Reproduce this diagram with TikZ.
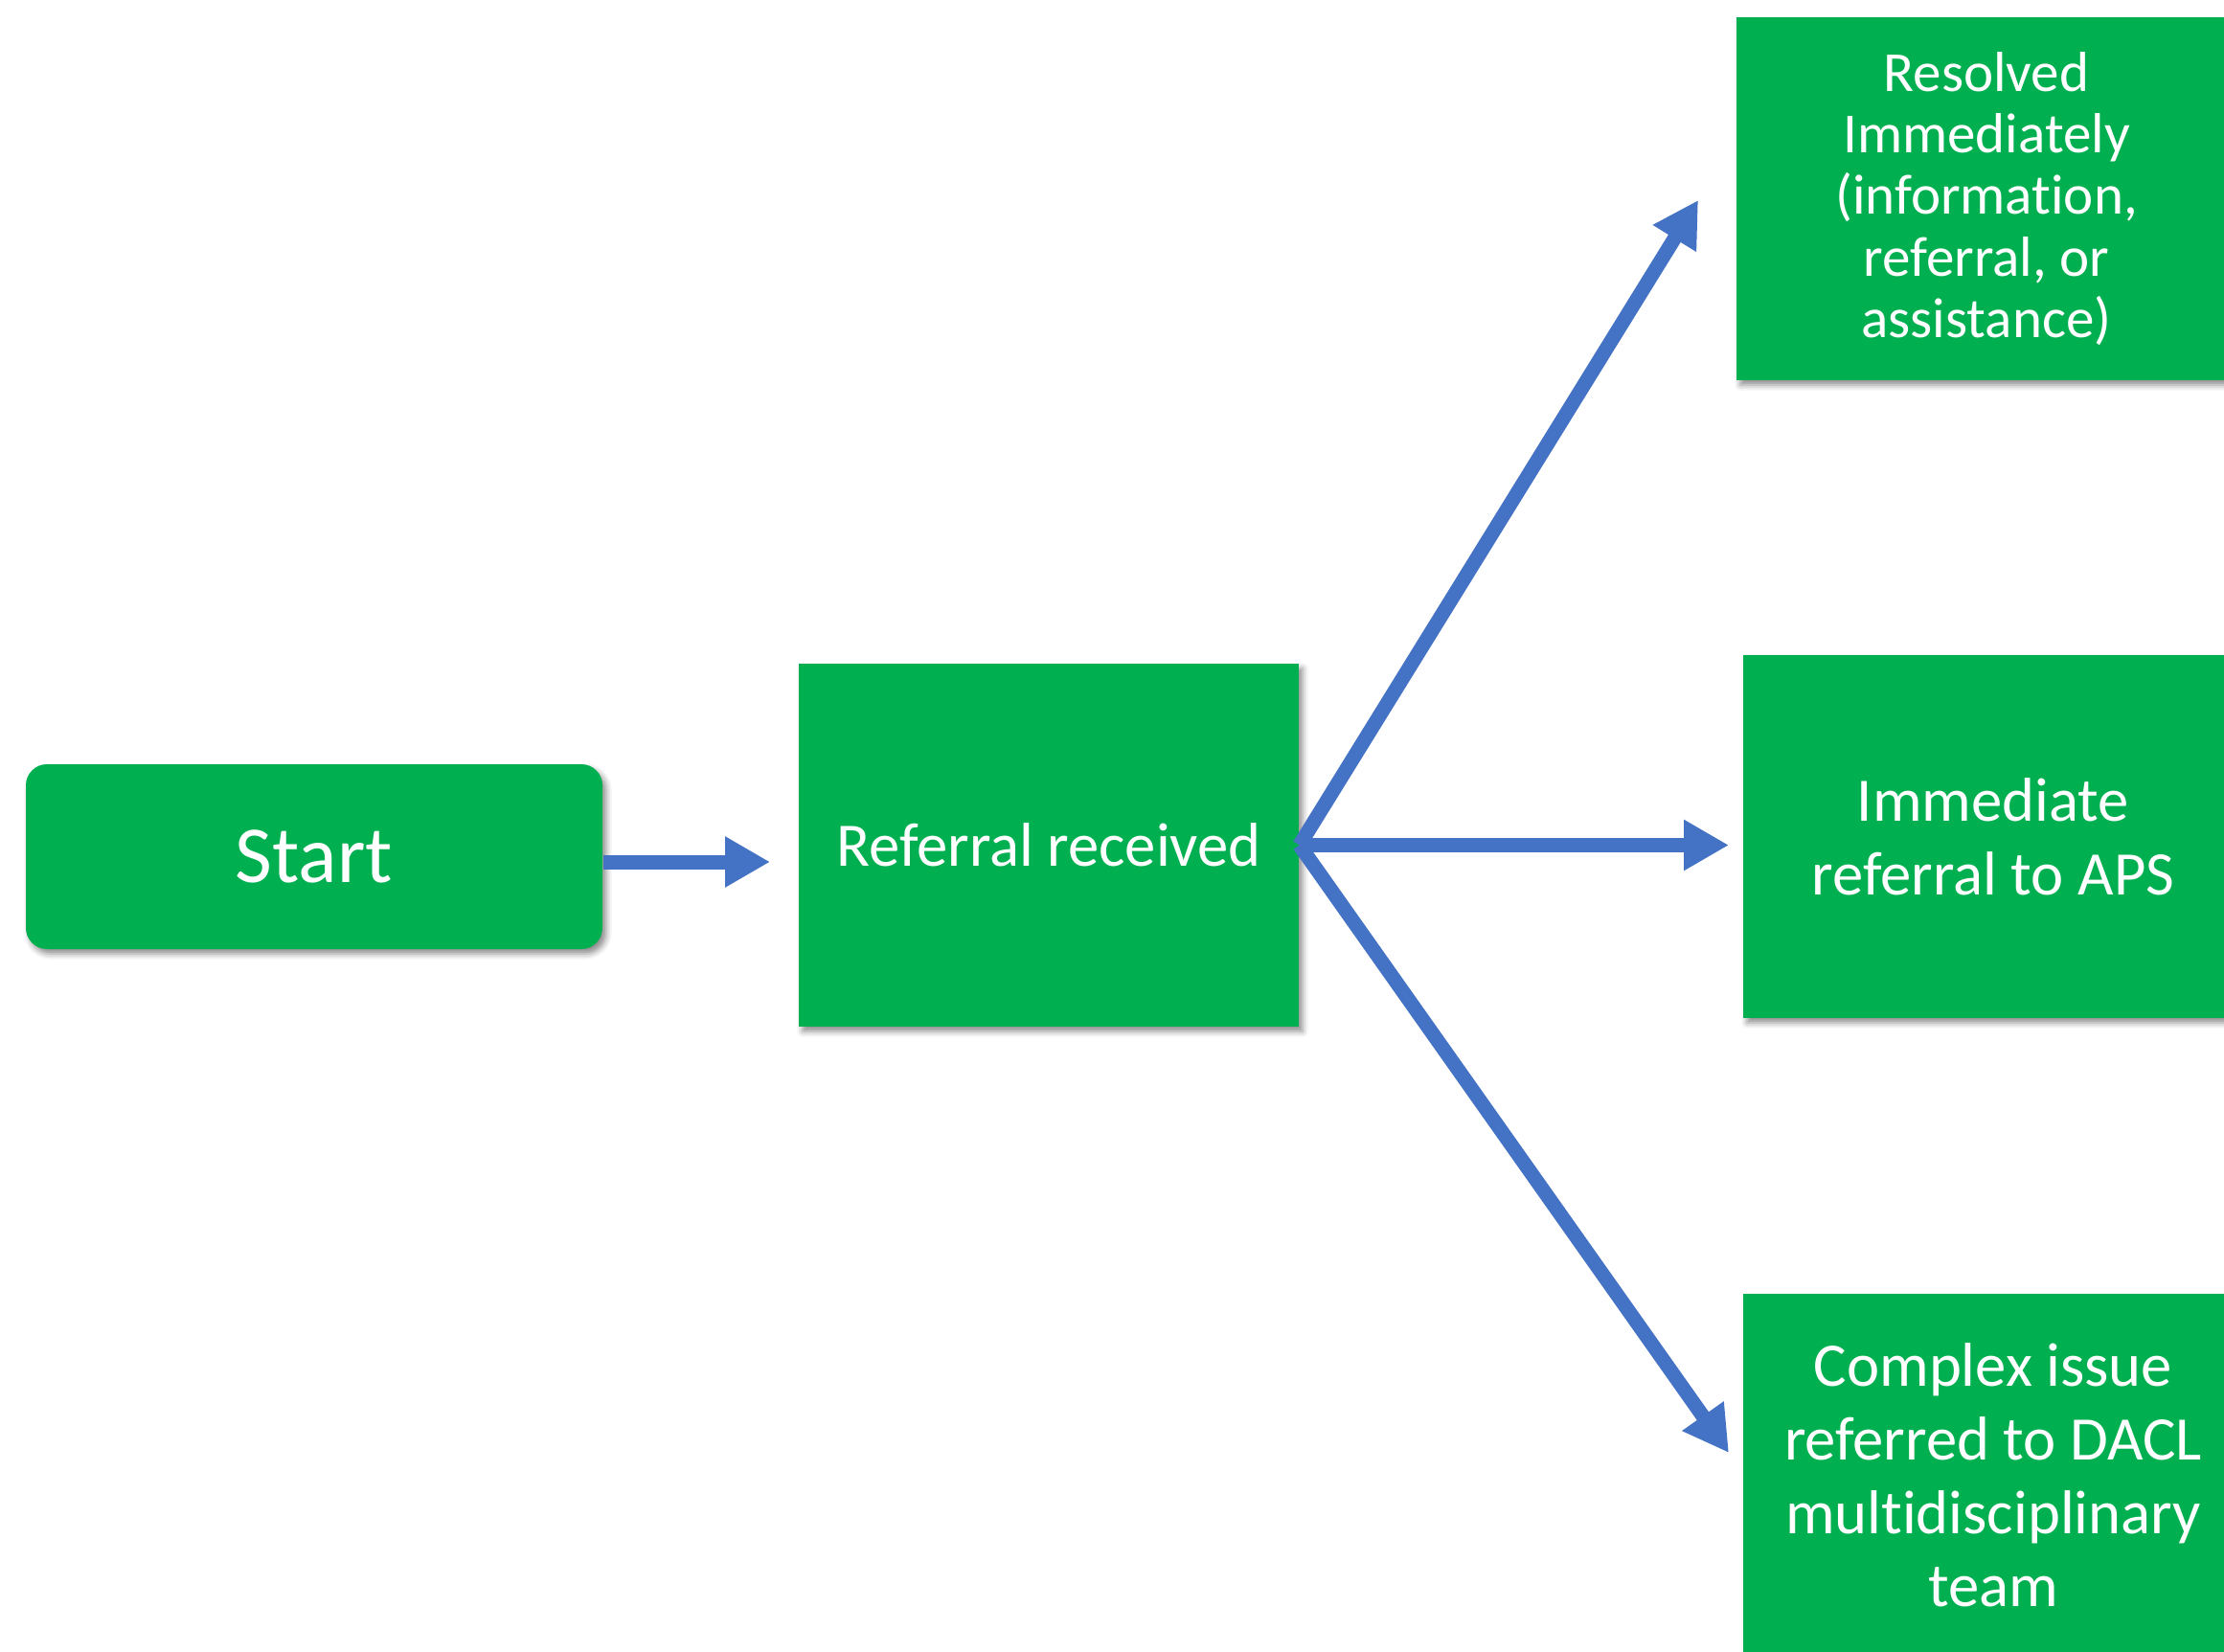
\documentclass[tikz,border=0pt]{standalone}
\usepackage{fontspec}
\setmainfont{Carlito}[Ligatures={NoCommon}]
\usepackage{tikz}
\usetikzlibrary{arrows.meta, shadows.blur, positioning}

\definecolor{boxgreen}{HTML}{00B050}
\definecolor{flowblue}{HTML}{4472C4}

\begin{document}
\begin{tikzpicture}[
		box/.style={rectangle, fill=boxgreen, text=white, align=center, inner sep=0pt,
			minimum width=5.22cm, minimum height=3.79cm,
			blur shadow={shadow xshift=0.04cm, shadow yshift=-0.05cm, shadow blur radius=0.06cm, shadow opacity=45}},
		bigtext/.style={font=\fontsize{18.4}{21.8}\selectfont},
		flow/.style={draw=flowblue, line width=0.15cm, -{Triangle[length=0.47cm, width=0.5cm]}}
	]
	
	\useasboundingbox (0,0) rectangle (23.22,-17.24);
	
	% --- 起点与接收 ---
	\node[box, rounded corners=0.22cm, minimum width=6.02cm, minimum height=1.93cm,
		font=\fontsize{24}{29}\selectfont] (start) at (3.28,-8.945) {Start};
	\node[box, bigtext] (ref) at (10.95,-8.825) {Referral received};
	
	% --- 三种结果 ---
	\node[box, font=\fontsize{16.8}{18.3}\selectfont] (res) at (20.74,-2.075)
		{Resolved\\Immediately\\(information,\\referral, or\\assistance)};
	\node[box, bigtext] (imm) at (20.81,-8.735) {Immediate\\referral to APS};
	\node[box, bigtext] (cpx) at (20.81,-15.405)
		{Complex issue\\referred to DACL\\multidisciplinary\\team};
	
	% 箭头终点
	\coordinate (toRef) at (8.04,-9.0);
	\coordinate (toRes) at (17.73,-2.09);
	\coordinate (toImm) at (18.05,-8.825);
	\coordinate (toCpx) at (18.05,-15.17);
	
	% --- 连线 ---
	\draw[flow] (start.east |- toRef) -- (toRef);
	\draw[flow] (ref.east) -- (toRes);
	\draw[flow] (ref.east) -- (toImm);
	\draw[flow] (ref.east) -- (toCpx);
	
\end{tikzpicture}
\end{document}
